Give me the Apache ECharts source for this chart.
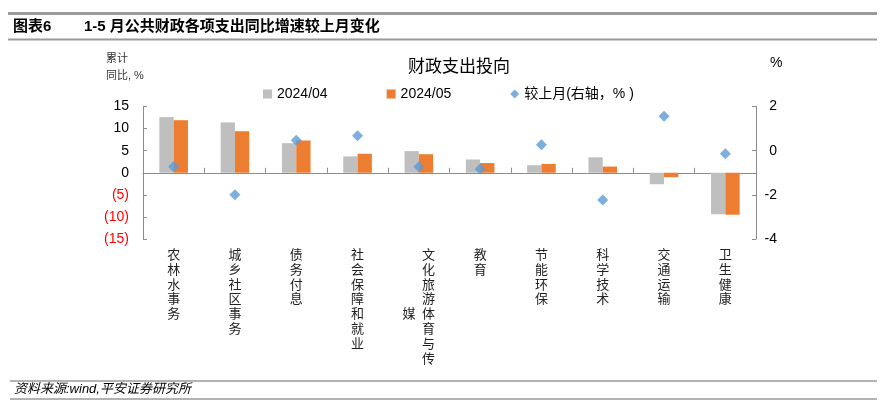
<!DOCTYPE html>
<html>
<head>
<meta charset="utf-8">
<script src="https://cdn.jsdelivr.net/npm/echarts@6/dist/echarts.min.js"></script>
<style>
html,body{margin:0;padding:0;background:#fff;}
#chart{width:885px;height:417px;}
</style>
</head>
<body>
<div id="chart"></div>
<script>
const categories = ['农林水事务','城乡社区事务','债务付息','社会保障和就业','文化旅游体育与传媒','教育','节能环保','科学技术','交通运输','卫生健康'];
const apr2024 = [12.6, 11.4, 6.7, 3.7, 4.9, 3.0, 1.7, 3.5, -2.6, -9.4];
const may2024 = [11.9, 9.4, 7.3, 4.3, 4.2, 2.2, 2.0, 1.4, -1.0, -9.5];
const changeMoM = [-0.73, -2.0, 0.47, 0.67, -0.73, -0.83, 0.27, -2.23, 1.56, -0.14];
const seriesNames = ['2024/04', '2024/05', '较上月(右轴，% )'];
const leftTicks = { min: -15, max: 15, interval: 5 };
const rightTicks = { min: -4, max: 2, interval: 2 };

const FONT = '"Liberation Sans", Arial, "Noto Sans CJK SC", sans-serif';
const chart = echarts.init(document.getElementById('chart'), null, { renderer: 'canvas' });

function verticalLabel(v) {
  const chars = Array.from(v);
  const maxRows = 8;
  if (chars.length <= maxRows) return chars.join('\n');
  const col1 = chars.slice(0, maxRows);
  const col2 = chars.slice(maxRows);
  const mid = Math.floor(maxRows / 2);
  return col1.map((c, k) => {
    const idx = k - mid;
    const left = (idx >= 0 && idx < col2.length) ? col2[idx] : '\u3000';
    return left + '\u2002' + c;
  }).join('\n');
}

const option = {
  backgroundColor: '#ffffff',
  animation: false,
  textStyle: { fontFamily: FONT },
  title: {
    text: '财政支出投向',
    left: 403, top: 54,
    textStyle: { fontSize: 17, fontWeight: 'normal', color: '#000', fontFamily: FONT }
  },
  legend: {
    left: 263, top: 87,
    itemWidth: 9, itemHeight: 9, itemGap: 59, padding: 0,
    textStyle: { fontSize: 14, color: '#000', fontFamily: FONT },
    data: [
      { name: seriesNames[0], icon: 'rect' },
      { name: seriesNames[1], icon: 'rect' },
      { name: seriesNames[2], icon: 'diamond' }
    ]
  },
  grid: { left: 143, right: 129, top: 106.5, bottom: 178, containLabel: false, outerBoundsMode: 'none' },
  xAxis: {
    type: 'category',
    data: categories,
    boundaryGap: true,
    axisLine: { onZero: true, onZeroAxisIndex: 0, lineStyle: { color: '#8c8c8c', width: 1 } },
    axisTick: { show: true, inside: true, length: 5, lineStyle: { color: '#8c8c8c' } },
    axisLabel: {
      interval: 0, margin: 9, fontSize: 13, lineHeight: 14.8, color: '#222',
      fontFamily: FONT, formatter: verticalLabel
    },
    splitLine: { show: false }
  },
  yAxis: [
    {
      type: 'value', min: leftTicks.min, max: leftTicks.max, interval: leftTicks.interval,
      axisLine: { show: true, lineStyle: { color: '#8c8c8c' } },
      axisTick: { show: true, inside: true, length: 4, lineStyle: { color: '#8c8c8c' } },
      splitLine: { show: false },
      axisLabel: {
        margin: 14, fontSize: 14, fontFamily: FONT,
        formatter: v => (v < 0 ? '(' + (-v) + ')' : String(v)),
        color: v => (parseFloat(v) < 0 ? '#ff0000' : '#000000')
      }
    },
    {
      type: 'value', min: rightTicks.min, max: rightTicks.max, interval: rightTicks.interval,
      position: 'right',
      axisLine: { show: true, lineStyle: { color: '#8c8c8c' } },
      axisTick: { show: true, inside: true, length: 4, lineStyle: { color: '#8c8c8c' } },
      splitLine: { show: false },
      axisLabel: { margin: 21, align: 'right', fontSize: 14, color: '#000', fontFamily: FONT }
    }
  ],
  series: [
    {
      name: seriesNames[0], type: 'bar', data: apr2024, yAxisIndex: 0,
      barWidth: 14.3, barGap: '0%',
      itemStyle: { color: '#bfbfbf' }
    },
    {
      name: seriesNames[1], type: 'bar', data: may2024, yAxisIndex: 0,
      barWidth: 14.3, barGap: '0%',
      itemStyle: { color: '#ed7d31' }
    },
    {
      name: seriesNames[2], type: 'scatter', data: changeMoM, yAxisIndex: 1,
      symbol: 'diamond', symbolSize: 11, z: 5,
      itemStyle: { color: '#5b9bd5' }
    }
  ],
  graphic: [
    { type: 'line', shape: { x1: 8, y1: 13.5, x2: 877, y2: 13.5 }, style: { stroke: '#9a9a9a', lineWidth: 3 } },
    { type: 'line', shape: { x1: 8, y1: 39.5, x2: 877, y2: 39.5 }, style: { stroke: '#9a9a9a', lineWidth: 2 } },
    { type: 'text', left: 13, top: 19, style: { text: '图表6', font: 'bold 15px ' + FONT, fill: '#000' } },
    { type: 'text', left: 84, top: 19, style: { text: '1-5 月公共财政各项支出同比增速较上月变化', font: 'bold 15px ' + FONT, fill: '#000' } },
    { type: 'text', left: 106, top: 53, style: { text: '累计', font: '11px ' + FONT, fill: '#333' } },
    { type: 'text', left: 106, top: 70, style: { text: '同比, %', font: '11px ' + FONT, fill: '#333' } },
    { type: 'text', left: 770, top: 56, style: { text: '%', font: '14px ' + FONT, fill: '#000' } },
    { type: 'line', shape: { x1: 10, y1: 381, x2: 877, y2: 381 }, style: { stroke: '#9a9a9a', lineWidth: 1.5 } },
    { type: 'line', shape: { x1: 10, y1: 399, x2: 877, y2: 399 }, style: { stroke: '#9a9a9a', lineWidth: 1.5 } },
    { type: 'text', left: 14, top: 383, style: { text: '资料来源:wind,平安证券研究所', font: 'italic 13px ' + FONT, fill: '#000' } }
  ]
};
chart.setOption(option);
</script>
</body>
</html>
